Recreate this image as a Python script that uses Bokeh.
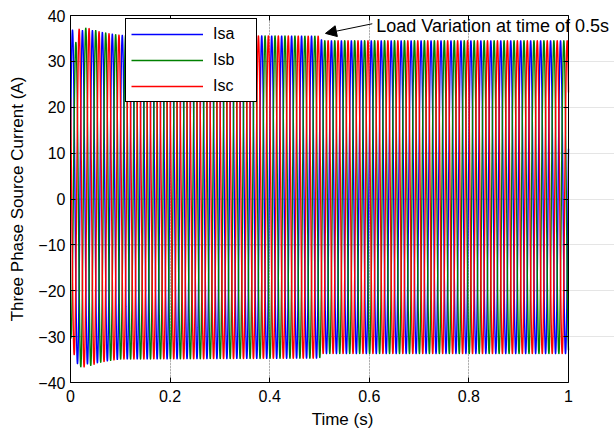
import numpy as np
from bokeh.plotting import figure
from bokeh.models import (Range1d, LinearAxis, FixedTicker, Label, Arrow, Grid,
                          NormalHead, Legend, LegendItem, ColumnDataSource)
from bokeh.embed import file_html
from bokeh.resources import INLINE

# ---- data ----
freq_hz = 50.0
sample_step = 5e-5
phase_delay = 0.004            # time of first Isa peak (s)
env_time = [0.0, 0.01, 0.02, 0.04, 0.06, 0.08, 0.10, 0.50, 0.505, 1.00]
env_isa = [36.5, 36.3, 36.3, 36.4, 36.0, 35.6, 35.3, 35.1, 34.1, 34.1]
env_isb = [30.5, 33.5, 37.0, 36.7, 36.0, 35.6, 35.3, 35.1, 34.1, 34.1]
env_isc = [32.5, 35.0, 37.2, 36.7, 36.0, 35.6, 35.3, 35.1, 34.1, 34.1]
dc_offset = 0.4
series_names = ["Isa", "Isb", "Isc"]
series_colors = ["#0000ff", "#008000", "#ff0000"]
x_ticks = [0, 0.2, 0.4, 0.6, 0.8, 1]
x_tick_labels = ["0", "0.2", "0.4", "0.6", "0.8", "1"]
y_ticks = [-40, -30, -20, -10, 0, 10, 20, 30, 40]
note_text = "Load Variation at time of 0.5s"
note_x, note_y = 0.614, 37.8
arrow_from = (0.606, 38.2)
arrow_to = (0.512, 36.1)

t = np.arange(0, 1.0 + sample_step / 2, sample_step)
envs = [env_isa, env_isb, env_isc]
shifts = [0.0, 1.0 / (3 * freq_hz), 2.0 / (3 * freq_hz)]
data = {"t": t}
for name, env, sh in zip(series_names, envs, shifts):
    amp = np.interp(t, env_time, env)
    data[name] = amp * np.cos(2 * np.pi * freq_hz * (t - phase_delay - sh)) + dc_offset
src = ColumnDataSource(data)

FONT = "Liberation Sans"

# frame spans to the page's right edge so the note text is not clipped;
# the axes box is drawn at x = 0..1 by axes with bounds / fixed location
W, H = 614, 435
LEFT, TOP, BOTTOM = 70, 15, 53
PX_PER_UNIT = 498.0
x_end = (W - LEFT) / PX_PER_UNIT

p = figure(width=W, height=H, x_range=Range1d(0, x_end), y_range=Range1d(-40, 40),
           output_backend="svg", toolbar_location=None,
           x_axis_location=None, y_axis_location=None,
           min_border_left=LEFT, min_border_right=0, min_border_top=TOP,
           min_border_bottom=BOTTOM)
p.background_fill_color = "white"
p.border_fill_color = "white"
p.outline_line_color = None

bottom_ax = LinearAxis(ticker=FixedTicker(ticks=x_ticks), axis_label="Time (s)", bounds=(0, 1))
bottom_ax.major_label_overrides = {k: v for k, v in zip(x_ticks, x_tick_labels)}
left_ax = LinearAxis(ticker=FixedTicker(ticks=y_ticks), axis_label="Three Phase Source Current (A)")
# top / right axes: tick marks only (as minor ticks, which carry no labels)
top_ax = LinearAxis(ticker=FixedTicker(ticks=[], minor_ticks=x_ticks), bounds=(0, 1))
right_ax = LinearAxis(ticker=FixedTicker(ticks=[], minor_ticks=y_ticks), fixed_location=1.0)

p.add_layout(bottom_ax, "below")
p.add_layout(left_ax, "left")
p.add_layout(top_ax, "above")
p.add_layout(right_ax, "right")

for ax in [bottom_ax, left_ax, top_ax, right_ax]:
    ax.major_tick_in = 5
    ax.major_tick_out = 0
    ax.axis_line_color = "black"
    ax.major_tick_line_color = "black"
    ax.major_label_text_font = FONT
    ax.major_label_text_color = "black"
    ax.axis_label_text_font = FONT
    ax.axis_label_text_font_style = "normal"
    ax.axis_label_text_color = "black"
for ax in [bottom_ax, left_ax]:
    ax.minor_tick_line_color = None
    ax.major_label_text_font_size = "16px"
    ax.axis_label_text_font_size = "17px"
for ax in [top_ax, right_ax]:
    ax.minor_tick_in = 5
    ax.minor_tick_out = 0
    ax.minor_tick_line_color = "black"
    ax.major_label_standoff = 0
bottom_ax.major_label_standoff = 7
bottom_ax.axis_label_standoff = 5
left_ax.major_label_standoff = 5
left_ax.axis_label_standoff = 8

# grid (dotted, MATLAB style), limited to the 0..1 box
xg = Grid(dimension=0, ticker=FixedTicker(ticks=x_ticks))
xg.grid_line_color = "#505050"
xg.grid_line_alpha = 0.7
xg.grid_line_dash = "1 2"
xg.grid_line_width = 1
p.add_layout(xg)
p.segment(x0=[0] * len(y_ticks), x1=[1] * len(y_ticks), y0=y_ticks, y1=y_ticks,
          line_color="#505050", line_alpha=0.7, line_dash="1 2", line_width=1)

renderers = []
for name, col in zip(series_names, series_colors):
    r = p.line("t", name, source=src, line_color=col, line_width=1.4)
    renderers.append(r)

# legend
legend = Legend(items=[LegendItem(label=n, renderers=[r]) for n, r in zip(series_names, renderers)],
                location=(55, 280))
legend.label_text_font = FONT
legend.label_text_font_size = "16px"
legend.label_text_color = "black"
legend.border_line_color = "black"
legend.border_line_width = 1
legend.border_line_alpha = 1
legend.background_fill_color = "white"
legend.background_fill_alpha = 1
legend.glyph_width = 72
legend.glyph_height = 20
legend.label_height = 20
legend.label_width = 38
legend.label_standoff = 10
legend.spacing = 6
legend.padding = 5
legend.margin = 0
p.add_layout(legend, "center")

# annotation
arrow = Arrow(end=NormalHead(size=11, fill_color="black", line_color="black"),
              x_start=arrow_from[0], y_start=arrow_from[1],
              x_end=arrow_to[0], y_end=arrow_to[1],
              line_color="black", line_width=1)
p.add_layout(arrow)
lab = Label(x=note_x, y=note_y, text=note_text, text_font=FONT, text_font_size="18px",
            text_color="black", text_baseline="middle", text_align="left")
p.add_layout(lab)

open("out.html", "w").write(file_html(p, INLINE))
